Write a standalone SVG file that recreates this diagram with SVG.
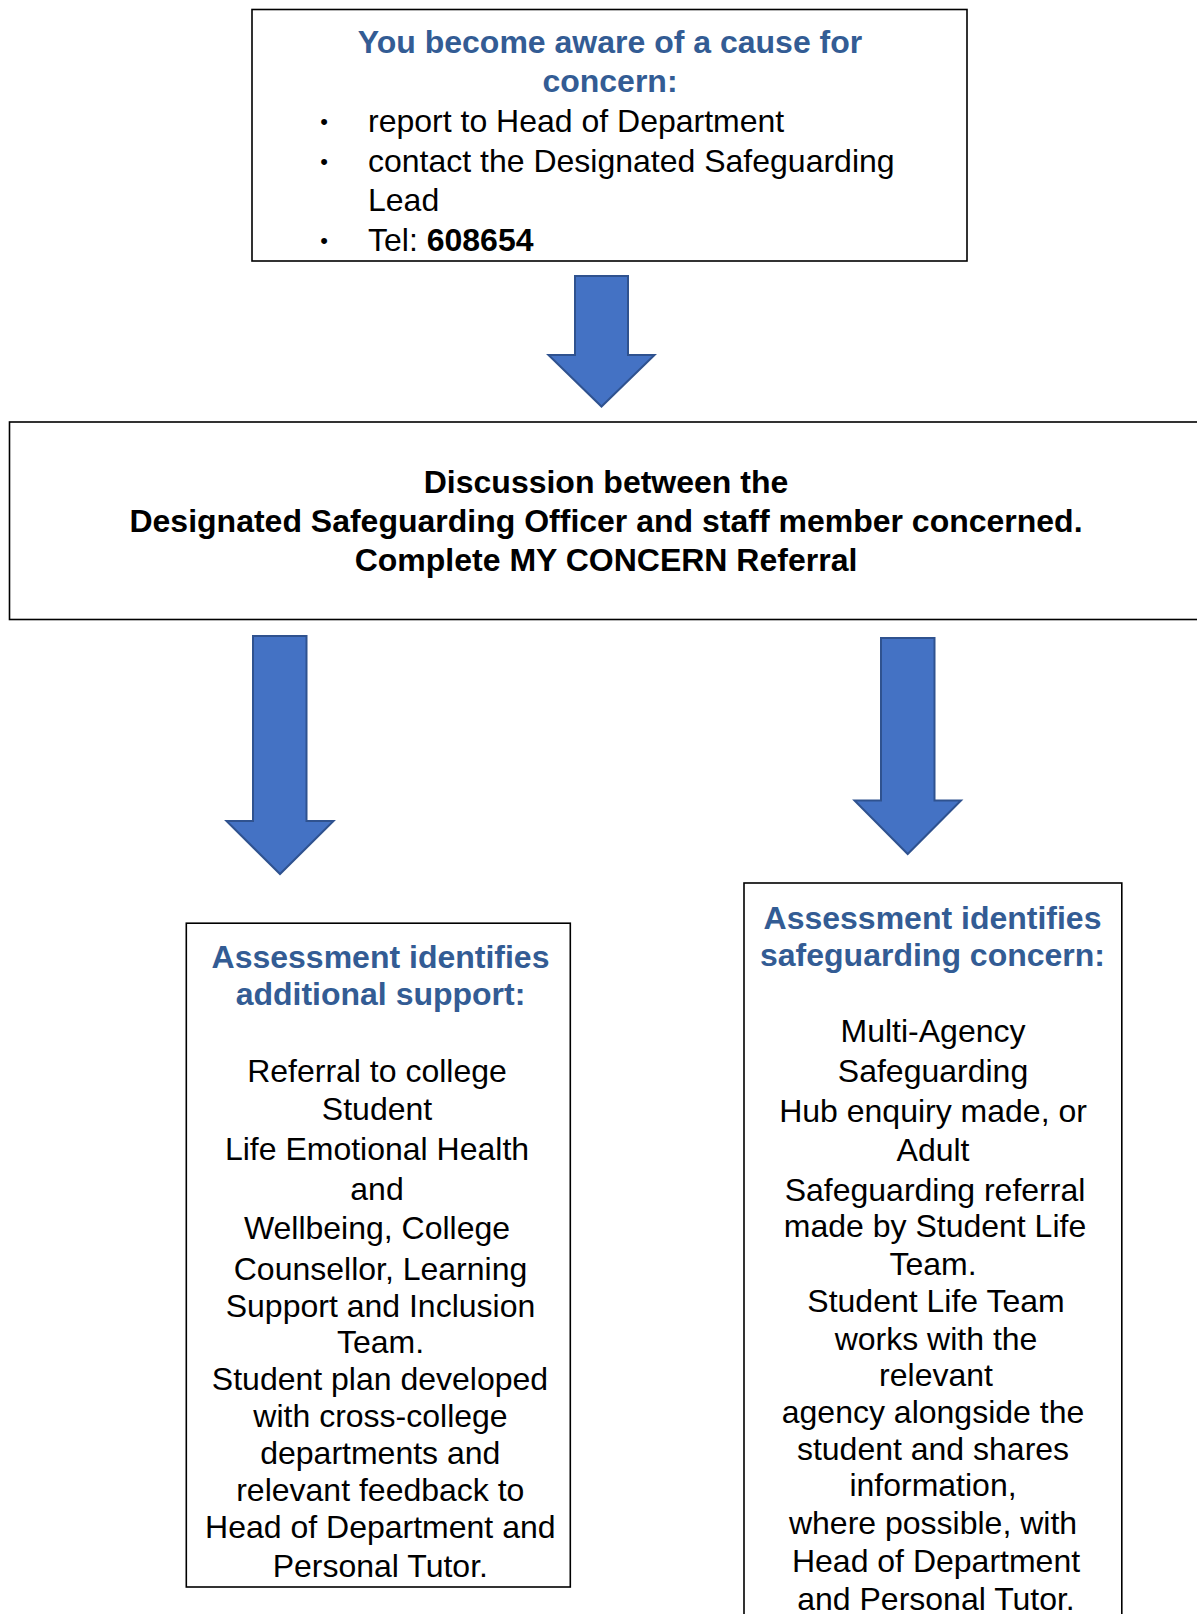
<svg xmlns="http://www.w3.org/2000/svg" width="1197" height="1614" viewBox="0 0 1197 1614">
<style>
.box{fill:#ffffff;stroke:#000000;stroke-width:1.6}
.arrow{fill:#4472C4;stroke:#2F528F;stroke-width:2;stroke-linejoin:miter}
text{font-family:"Liberation Sans",Arial,sans-serif;font-size:32px;fill:#000000}
.h{font-weight:bold;fill:#335C94}
.b{font-weight:bold}
.c{text-anchor:middle}
.bul{font-size:22px;text-anchor:middle}
</style>
<rect width="1197" height="1614" fill="#ffffff"/>
<g id="connectors">
<path class="arrow" d="M575,276 L628,276 L628,355 L654.5,355 L601.5,406.5 L548.5,355 L575,355 Z"/>
<path class="arrow" d="M253,636 L306.5,636 L306.5,821 L333.5,821 L280,874 L226.5,821 L253,821 Z"/>
<path class="arrow" d="M881,638 L934.5,638 L934.5,800.5 L961,800.5 L907.7,854 L854.5,800.5 L881,800.5 Z"/>
</g>
<g id="node-aware">
<rect class="box" x="252" y="9.5" width="715" height="251.5"/>
<text class="h c" x="610" y="52.7">You become aware of a cause for</text>
<text class="h c" x="610" y="92.3">concern:</text>
<text class="bul" x="324" y="129">•</text>
<text x="368" y="132">report to Head of Department</text>
<text class="bul" x="324" y="168.5">•</text>
<text x="368" y="171.5">contact the Designated Safeguarding</text>
<text x="368" y="211">Lead</text>
<text class="bul" x="324" y="247.7">•</text>
<text x="368" y="250.7">Tel: <tspan class="b">608654</tspan></text>
</g>
<g id="node-discussion">
<rect class="box" x="9.5" y="422" width="1200" height="197.5"/>
<text class="b c" x="606" y="493.2">Discussion between the</text>
<text class="b c" x="606" y="532.3">Designated Safeguarding Officer and staff member concerned.</text>
<text class="b c" x="606" y="571.4">Complete MY CONCERN Referral</text>
</g>
<g id="node-additional-support">
<rect class="box" x="186.3" y="923.2" width="384" height="663.8"/>
<text class="h c" x="380.5" y="967.6">Assessment identifies</text>
<text class="h c" x="380.5" y="1004.7">additional support:</text>
<text class="c" x="377" y="1081.9">Referral to college</text>
<text class="c" x="377" y="1119.9">Student</text>
<text class="c" x="377" y="1160.1">Life Emotional Health</text>
<text class="c" x="377" y="1200.2">and</text>
<text class="c" x="377" y="1239.3">Wellbeing, College</text>
<text class="c" x="380.5" y="1279.5">Counsellor, Learning</text>
<text class="c" x="380.5" y="1316.5">Support and Inclusion</text>
<text class="c" x="380.5" y="1352.5">Team.</text>
<text class="c" x="380" y="1389.6">Student plan developed</text>
<text class="c" x="380.5" y="1426.7">with cross-college</text>
<text class="c" x="380.3" y="1463.7">departments and</text>
<text class="c" x="380.3" y="1500.8">relevant feedback to</text>
<text class="c" x="380.3" y="1537.8">Head of Department and</text>
<text class="c" x="380.3" y="1576.9">Personal Tutor.</text>
</g>
<g id="node-safeguarding-concern">
<rect class="box" x="744" y="883" width="377.8" height="760"/>
<text class="h c" x="932.5" y="928.5">Assessment identifies</text>
<text class="h c" x="932.5" y="965.6">safeguarding concern:</text>
<text class="c" x="933" y="1041.7">Multi-Agency</text>
<text class="c" x="933" y="1081.9">Safeguarding</text>
<text class="c" x="933" y="1122">Hub enquiry made, or</text>
<text class="c" x="933" y="1161.1">Adult</text>
<text class="c" x="935" y="1201.3">Safeguarding referral</text>
<text class="c" x="935" y="1237.3">made by Student Life</text>
<text class="c" x="933" y="1275.4">Team.</text>
<text class="c" x="936" y="1312.4">Student Life Team</text>
<text class="c" x="936" y="1349.5">works with the</text>
<text class="c" x="936" y="1385.5">relevant</text>
<text class="c" x="933" y="1422.6">agency alongside the</text>
<text class="c" x="933" y="1459.6">student and shares</text>
<text class="c" x="933" y="1495.6">information,</text>
<text class="c" x="933" y="1533.7">where possible, with</text>
<text class="c" x="936" y="1571.8">Head of Department</text>
<text class="c" x="936" y="1609.8">and Personal Tutor.</text>
</g>
</svg>
